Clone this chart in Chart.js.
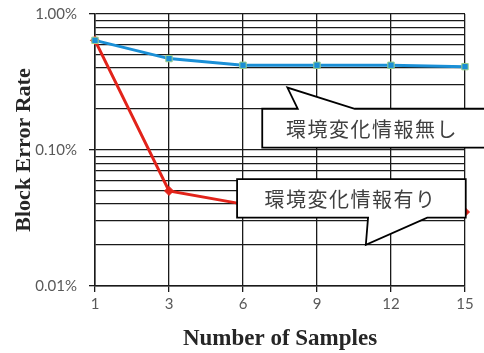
<!DOCTYPE html>
<html><head><meta charset="utf-8">
<script src="https://cdn.jsdelivr.net/npm/chart.js@4.4.1/dist/chart.umd.min.js"></script>
<style>html,body{margin:0;padding:0;background:#fff}#wrap{width:484px;height:353px}</style>
</head><body><div id="wrap"><canvas id="c" width="484" height="353"></canvas></div>
<script>
const categories = ['1','3','6','9','12','15'];
const seriesWithout = [0.64, 0.47, 0.42, 0.42, 0.42, 0.41];   // 環境変化情報無し (%)
const seriesWith    = [0.64, 0.050, 0.040, 0.038, 0.036, 0.035]; // 環境変化情報有り (%)
const yTickValues = [];
for (let e = -2; e <= 0; e++) {
  for (let k = 1; k <= 9; k++) {
    const v = Number((k * Math.pow(10, e)).toPrecision(3));
    if (v <= 1) yTickValues.push(v);
  }
}
const calloutLabels = ['環境変化情報無し', '環境変化情報有り'];

function isMajor(v){ const l = Math.log10(v); return Math.abs(l - Math.round(l)) < 1e-9; }

const callouts = {
  id: 'callouts',
  afterDatasetsDraw(chart) {
    const ctx = chart.ctx, xs = chart.scales.x, ys = chart.scales.y;
    const X = v => xs.getPixelForValue(v), Y = v => ys.getPixelForValue(v);
    const defs = [
      { text: calloutLabels[0], box: [2.26, 5.4, 0.201, 0.104], tip: [2.60, 0.288], base: [2.74, 3.51], side: 'top', tx: 2.58 },
      { text: calloutLabels[1], box: [1.92, 5.01, 0.061, 0.0318], tip: [3.66, 0.0201], base: [3.69, 4.49], side: 'bottom', tx: 2.29 }
    ];
    ctx.save();
    defs.forEach(d => {
      const l = X(d.box[0]), r = X(d.box[1]), t = Y(d.box[2]), b = Y(d.box[3]);
      const tx = X(d.tip[0]), ty = Y(d.tip[1]);
      const b1 = X(d.base[0]), b2 = X(d.base[1]);
      ctx.beginPath();
      if (d.side === 'top') {
        ctx.moveTo(l, t); ctx.lineTo(b1, t); ctx.lineTo(tx, ty); ctx.lineTo(b2, t);
        ctx.lineTo(r, t); ctx.lineTo(r, b); ctx.lineTo(l, b); ctx.closePath();
      } else {
        ctx.moveTo(l, t); ctx.lineTo(r, t); ctx.lineTo(r, b); ctx.lineTo(b2, b);
        ctx.lineTo(tx, ty); ctx.lineTo(b1, b); ctx.lineTo(l, b); ctx.closePath();
      }
      ctx.fillStyle = '#fff'; ctx.fill();
      ctx.lineWidth = 1.8; ctx.strokeStyle = '#000'; ctx.stroke();
      ctx.fillStyle = '#404040';
      ctx.font = '20px "Noto Sans CJK JP"';
      ctx.letterSpacing = '1.5px';
      ctx.textBaseline = 'middle';
      ctx.textAlign = 'left';
      ctx.fillText(d.text, X(d.tx), (t + b) / 2 + 1);
    });
    ctx.restore();
  }
};

const PAD = { left: 11, right: 19, top: 14, bottom: 0 };

new Chart(document.getElementById('c'), {
  type: 'line',
  data: {
    labels: categories,
    datasets: [
      { label: calloutLabels[0], data: seriesWithout, borderColor: '#1a8fd6', backgroundColor: '#1a8fd6',
        borderWidth: 3, pointStyle: 'rect', pointRadius: 4.5, pointBorderColor: '#9bd08a', pointBorderWidth: 1, tension: 0 },
      { label: calloutLabels[1], data: seriesWith, borderColor: '#e2231a', backgroundColor: '#e2231a',
        borderWidth: 3, pointStyle: 'rectRot', pointRadius: 4.5, pointBorderWidth: 1, tension: 0 }
    ]
  },
  options: {
    responsive: false, animation: false,
    layout: { padding: PAD },
    plugins: { legend: { display: false }, tooltip: { enabled: false } },
    scales: {
      x: {
        type: 'category', offset: false,
        afterFit: s => { s.height = 353 - 286 - PAD.bottom; s.paddingLeft = 0; s.paddingRight = 0; },
        grid: { color: '#1a1a1a', lineWidth: 1.3, tickLength: 6, tickColor: '#1a1a1a' },
        border: { color: '#1a1a1a', width: 1.5 },
        ticks: { color: '#595959', font: { family: 'Lato', size: 15 }, padding: 3, maxRotation: 0 },
        title: { display: true, text: 'Number of Samples', color: '#262626',
          font: { family: 'Liberation Serif', size: 23, weight: 'bold' }, padding: { top: 4, bottom: 0 } }
      },
      y: {
        type: 'logarithmic', min: 0.01, max: 1,
        afterFit: s => { s.width = 95 - PAD.left; s.paddingTop = 0; s.paddingBottom = 0; },
        afterBuildTicks: s => { s.ticks = yTickValues.map(v => ({ value: v, major: isMajor(v) })); },
        grid: { color: '#1a1a1a', lineWidth: 1.3, tickLength: 6,
          tickColor: c => (c.tick && isMajor(c.tick.value)) ? '#1a1a1a' : 'rgba(0,0,0,0)' },
        border: { color: '#1a1a1a', width: 1.5 },
        ticks: { autoSkip: false, color: '#595959', font: { family: 'Lato', size: 15 }, padding: 12,
          callback: v => isMajor(v) ? v.toFixed(2) + '%' : '' },
        title: { display: true, text: 'Block Error Rate', color: '#262626',
          font: { family: 'Liberation Serif', size: 22, weight: 'bold' }, padding: { top: 0, bottom: 0 } }
      }
    }
  },
  plugins: [callouts]
});
</script></body></html>
